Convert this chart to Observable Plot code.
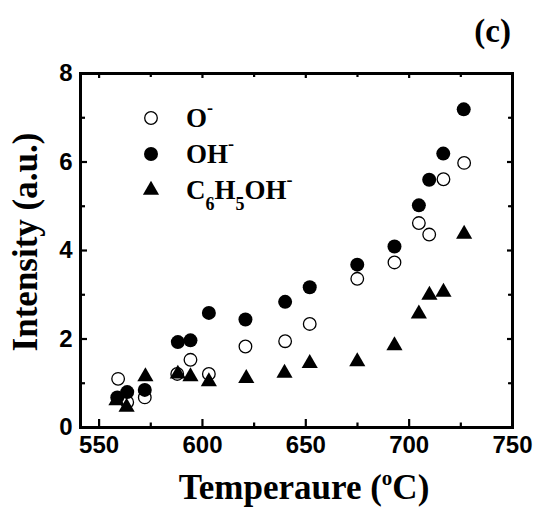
<!DOCTYPE html>
<html><head><meta charset="utf-8">
<script src="https://cdn.jsdelivr.net/npm/d3@7"></script>
<script src="https://cdn.jsdelivr.net/npm/@observablehq/plot@0.6"></script>
<style>body{margin:0;background:#fff;} #chart{width:535px;height:508px;}</style>
</head><body><div id="chart"></div>
<script>
// ---- data ----
const tempO = [559.2,563.6,572.1,587.8,594.2,603.1,620.8,640.0,651.9,674.9,692.9,704.7,709.7,716.6,726.6];
const intensityO = [1.10,0.57,0.68,1.21,1.53,1.21,1.83,1.95,2.34,3.36,3.73,4.62,4.36,5.61,5.98];
const tempOH = [558.8,563.6,572.1,588.1,594.2,603.1,620.8,640.0,651.9,674.9,692.9,704.7,709.7,716.5,726.4];
const intensityOH = [0.68,0.80,0.85,1.93,1.97,2.59,2.44,2.84,3.17,3.68,4.09,5.02,5.60,6.19,7.19];
const tempPh = [558.4,563.3,572.4,588.1,594.2,603.1,621.2,639.7,651.9,674.9,692.9,704.7,709.8,716.6,726.6];
const intensityPh = [0.61,0.46,1.15,1.21,1.15,1.04,1.11,1.23,1.45,1.49,1.85,2.57,2.99,3.06,4.37];
const xMajor = [550,600,650,700,750];
const xMinor = [575,625,675,725];
const yMajor = [0,2,4,6,8];
const yMinor = [1,3,5,7];
const xTitle = ["Temperaure (", "o", "C)"];
const yTitle = "Intensity (a.u.)";
const panelLabel = "(c)";
const legendLabels = [
  [["O",""],["-","sup"]],
  [["OH",""],["-","sup"]],
  [["C",""],["6","sub"],["H",""],["5","sub"],["OH",""],["-","sup"]]
];

// ---- layout ----
const W = 535, H = 508, mL = 80, mR = 23, mT = 73, mB = 81;
const pw = W - mL - mR, ph = H - mT - mB;
const rows = (t, v) => t.map((x, i) => ({x, y: v[i]}));
const tk = {stroke: "black", strokeWidth: 2.2};
const serif = "'Liberation Serif','Times New Roman',serif";
const rOpen = 6.3, rFilled = 7, rTri = 6;

const plot = Plot.plot({
  width: W, height: H,
  marginLeft: mL, marginRight: mR, marginTop: mT, marginBottom: mB,
  x: {domain: [541, 750]},
  y: {domain: [0, 8]},
  style: {fontFamily: "'Liberation Sans',Arial,sans-serif", fontSize: "24px", fontWeight: "bold", color: "black", background: "white"},
  marks: [
    Plot.axisX(xMajor, {tickSize: 0, tickPadding: 8, label: null}),
    Plot.axisY(yMajor, {tickSize: 0, tickPadding: 8, label: null}),
    Plot.tickX(xMajor, {x: d => d, insetTop: ph - 8, ...tk}),
    Plot.tickX(xMinor, {x: d => d, insetTop: ph - 4.5, ...tk}),
    Plot.tickX(xMajor, {x: d => d, insetBottom: ph - 5, ...tk}),
    Plot.tickX(xMinor, {x: d => d, insetBottom: ph - 4, ...tk}),
    Plot.tickY(yMajor, {y: d => d, insetRight: pw - 7, ...tk}),
    Plot.tickY(yMinor, {y: d => d, insetRight: pw - 5, ...tk}),
    Plot.tickY(yMajor, {y: d => d, insetLeft: pw - 5, ...tk}),
    Plot.tickY(yMinor, {y: d => d, insetLeft: pw - 4, ...tk}),
    Plot.dot(rows(tempO, intensityO), {x: "x", y: "y", r: rOpen, stroke: "black", strokeWidth: 1.3, fill: "white"}),
    Plot.dot(rows(tempOH, intensityOH), {x: "x", y: "y", r: rFilled, fill: "black", stroke: "none"}),
    Plot.dot(rows(tempPh, intensityPh), {x: "x", y: "y", r: rTri, symbol: "triangle", fill: "black", stroke: "none"}),
    Plot.frame({stroke: "black", strokeWidth: 3})
  ]
});
document.getElementById("chart").appendChild(plot);

const svg = d3.select(plot);
// x title
const xt = svg.append("text")
  .attr("x", 304).attr("y", 499)
  .attr("text-anchor", "middle")
  .attr("font-family", serif).attr("font-size", 35).attr("font-weight", "bold").attr("fill", "black");
xt.append("tspan").text(xTitle[0]);
xt.append("tspan").text(xTitle[1]).attr("font-size", 21).attr("dy", -14);
xt.append("tspan").text(xTitle[2]).attr("dy", 14);
// y title
svg.append("text")
  .attr("transform", "translate(37,242) rotate(-90)")
  .attr("text-anchor", "middle")
  .attr("font-family", serif).attr("font-size", 35).attr("font-weight", "bold").attr("fill", "black")
  .text(yTitle);
// panel label
svg.append("text")
  .attr("x", 511).attr("y", 42).attr("text-anchor", "end")
  .attr("font-family", serif).attr("font-size", 33).attr("font-weight", "bold").attr("fill", "black")
  .text(panelLabel);

// legend
const legY = [118, 154, 190];
const symbols = [
  {type: d3.symbolCircle, size: Math.PI * rOpen * rOpen, fill: "white", stroke: "black"},
  {type: d3.symbolCircle, size: Math.PI * rFilled * rFilled, fill: "black", stroke: "none"},
  {type: d3.symbolTriangle, size: Math.PI * rTri * rTri, fill: "black", stroke: "none"}
];
const lg = svg.append("g");
legendLabels.forEach((parts, i) => {
  const s = symbols[i];
  lg.append("path")
    .attr("d", d3.symbol(s.type, s.size)())
    .attr("transform", `translate(151,${legY[i]})`)
    .attr("fill", s.fill).attr("stroke", s.stroke).attr("stroke-width", 1.3);
  const t = lg.append("text")
    .attr("x", 186).attr("y", legY[i] + 9)
    .attr("text-anchor", "start")
    .attr("font-family", serif).attr("font-size", 27).attr("font-weight", "bold").attr("fill", "black");
  let shift = 0;
  parts.forEach(([txt, kind]) => {
    const target = kind === "sub" ? 11 : kind === "sup" ? -13 : 0;
    const sp = t.append("tspan").text(txt).attr("dy", target - shift);
    if (kind) sp.attr("font-size", 18);
    shift = target;
  });
});
</script>
</body></html>
